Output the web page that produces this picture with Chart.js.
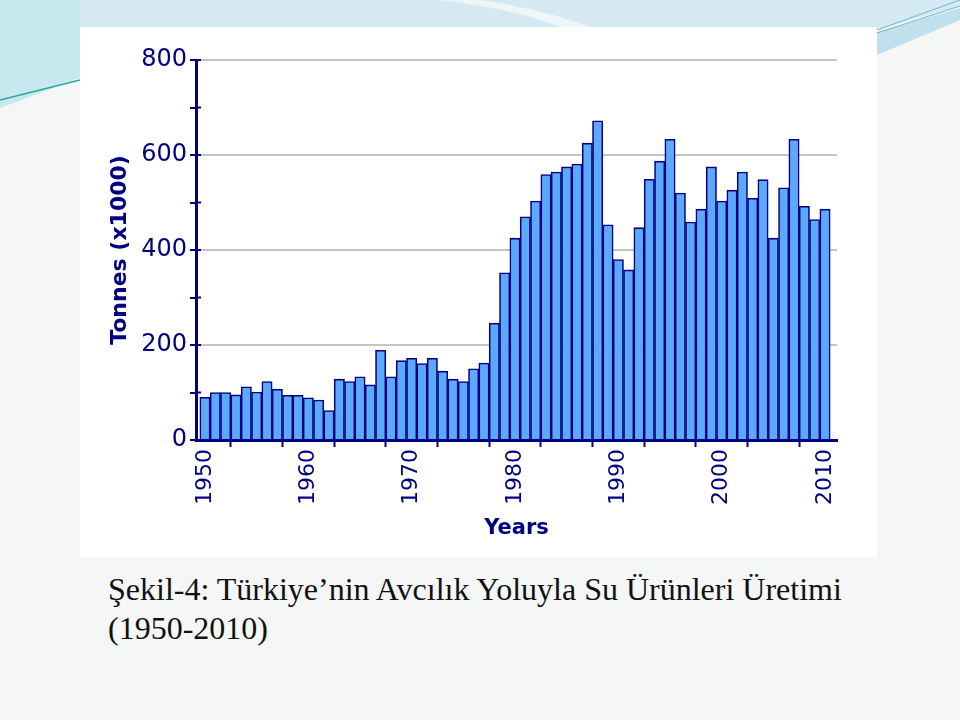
<!DOCTYPE html>
<html>
<head>
<meta charset="utf-8">
<script src="https://cdn.jsdelivr.net/npm/chart.js@4.4.1/dist/chart.umd.min.js"></script>
<style>
  html, body { margin: 0; padding: 0; }
  body {
    width: 960px; height: 720px; position: relative; overflow: hidden;
    background: #f5f6f6;
  }
  #deco { position: absolute; left: 0; top: 0; }
  #panel {
    position: absolute; left: 80px; top: 27px; width: 797px; height: 530px;
    background: #ffffff;
  }
  #caption {
    position: absolute; left: 108px; top: 570px; width: 800px;
    font-family: "Liberation Serif", "Times New Roman", serif;
    font-size: 32px; line-height: 39px; color: #111;
  }
</style>
</head>
<body>
<svg id="deco" width="960" height="720">
  <polygon points="0,0 960,0 960,6 877,30 877,27 0,27" fill="#d4e9f1"/>
  <polygon points="0,0 80,0 80,78 0,108" fill="#c6e9f0"/>
  <path d="M440,0 Q520,10 560,27 L590,27 Q540,8 480,0 Z" fill="#eef6f9"/>
  <polygon points="877,32 960,8 960,20 877,55" fill="#bfe0ec"/>
  <line x1="0" y1="100" x2="80" y2="80" stroke="#2fa7a0" stroke-width="1.5"/>
  <line x1="877" y1="30" x2="960" y2="0" stroke="#6fb8c8" stroke-width="1"/>
  <line x1="877" y1="33" x2="960" y2="6" stroke="#6fb8c8" stroke-width="1"/>
</svg>
<div id="panel"><canvas id="myChart" width="797" height="530"></canvas></div>
<div id="caption">Şekil-4: Türkiye’nin Avcılık Yoluyla Su Ürünleri Üretimi<br>(1950-2010)</div>
<script>
// yıllar ve av miktarı (ton x1000)
const years = [
  1950, 1951, 1952, 1953, 1954, 1955, 1956, 1957, 1958, 1959,
  1960, 1961, 1962, 1963, 1964, 1965, 1966, 1967, 1968, 1969,
  1970, 1971, 1972, 1973, 1974, 1975, 1976, 1977, 1978, 1979,
  1980, 1981, 1982, 1983, 1984, 1985, 1986, 1987, 1988, 1989,
  1990, 1991, 1992, 1993, 1994, 1995, 1996, 1997, 1998, 1999,
  2000, 2001, 2002, 2003, 2004, 2005, 2006, 2007, 2008, 2009,
  2010
];
const tonnes = [
  90, 100, 100, 95, 112, 101, 123, 107, 94, 94,
  89, 84, 62, 128, 123, 133, 116, 189, 133, 167,
  172, 161, 172, 145, 128, 123, 150, 162, 246, 352,
  425, 470, 503, 559, 564, 575, 581, 625, 672, 453,
  380, 358, 447, 549, 587, 633, 520, 459, 486, 575,
  503, 526, 564, 509, 548, 425, 531, 633, 492, 464,
  486
];
const yTicks = [0, 200, 400, 600, 800];

const navy = '#000080';

// küçük çentikler y ekseninin sağına da taşsın
const eksenCentik = {
    id: 'eksenCentik',
    afterDraw(chart) {
        const y = chart.scales.y;
        const ctx = chart.ctx;
        ctx.save();
        ctx.strokeStyle = navy;
        ctx.lineWidth = 2;
        y.ticks.forEach(t => {
            const py = y.getPixelForValue(t.value);
            ctx.beginPath();
            ctx.moveTo(y.right, py);
            ctx.lineTo(y.right + 5, py);
            ctx.stroke();
        });
        ctx.restore();
    }
};

const ctx = document.getElementById('myChart').getContext('2d');
const chart = new Chart(ctx, {
    type: 'bar',
    data: {
        labels: years,
        datasets: [{
            data: tonnes,
            backgroundColor: '#5ca8fb',
            borderColor: navy,
            borderWidth: 1.6,
            borderSkipped: 'bottom',
            barPercentage: 1,
            categoryPercentage: 1
        }]
    },
    options: {
        responsive: false,
        animation: false,
        layout: { padding: { top: 33, right: 40, left: 0, bottom: 0 } },
        plugins: { legend: { display: false }, tooltip: { enabled: false } },
        scales: {
            x: {
                type: 'linear',
                offset: false,
                min: 1949.13,
                max: 2011.16,
                afterFit: s => { s.height = 117; },
                border: { color: navy, width: 3 },
                grid: { drawOnChartArea: false, tickLength: 7, tickWidth: 2, tickColor: navy },
                ticks: {
                    stepSize: 5,
                    includeBounds: false,
                    autoSkip: false,
                    minRotation: 90,
                    maxRotation: 90,
                    padding: 2,
                    color: navy,
                    font: { family: 'DejaVu Sans', size: 22 },
                    callback: v => (v % 10 === 0 ? String(v) : '')
                },
                title: {
                    display: true,
                    text: 'Years',
                    color: navy,
                    font: { family: 'DejaVu Sans', size: 21, weight: 'bold' },
                    padding: { bottom: 16 }
                }
            },
            y: {
                min: 0,
                max: 800,
                afterFit: s => { s.width = 116; },
                border: { color: navy, width: 3 },
                grid: {
                    color: c => (yTicks.includes(c.tick.value) && c.tick.value !== 0 ? '#c4c4c4' : 'rgba(0,0,0,0)'),
                    lineWidth: 2,
                    tickLength: 6,
                    tickWidth: 2,
                    tickColor: navy
                },
                ticks: {
                    stepSize: 100,
                    padding: 3,
                    color: navy,
                    font: { family: 'DejaVu Sans', size: 24 },
                    callback: v => (yTicks.includes(v) ? String(v) : '')
                },
                title: {
                    display: true,
                    text: 'Tonnes (x1000)',
                    color: navy,
                    font: { family: 'DejaVu Sans', size: 22, weight: 'bold' },
                    padding: { top: 27 }
                }
            }
        }
    },
    plugins: [eksenCentik]
});
</script>
</body>
</html>
